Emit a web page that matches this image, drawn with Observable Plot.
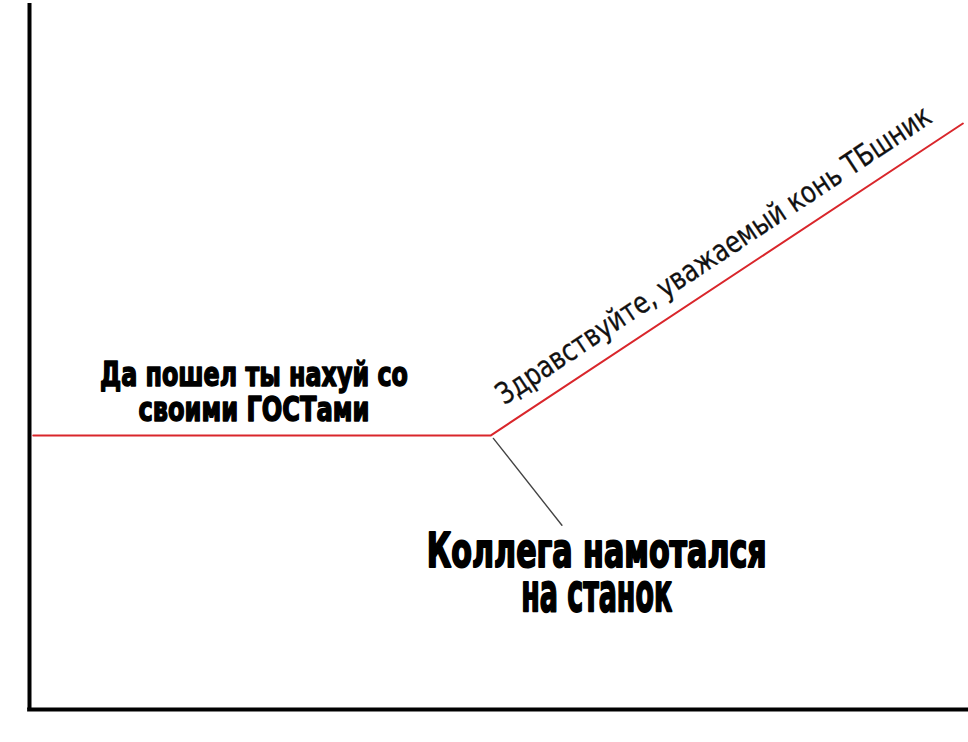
<!DOCTYPE html>
<html>
<head>
<meta charset="utf-8">
<script src="https://cdn.jsdelivr.net/npm/d3@7"></script>
<script src="https://cdn.jsdelivr.net/npm/@observablehq/plot@0.6"></script>
<style>
  html, body { margin: 0; padding: 0; background: #fff; }
  #chart svg { display: block; }
</style>
</head>
<body>
<div id="chart"></div>
<script>
// Trend line (data units: x 0..100, y 0..100)
const lineX = [0.4, 49.1, 99.4];
const lineY = [38.8, 38.8, 83.0];

// Pointer from the knee to the lower caption
const pointerX = [49.4, 56.7];
const pointerY = [38.4, 26.1];

// Captions (anchor = baseline of the last line)
const leftLabel = ["Да пошел ты нахуй со\nсвоими ГОСТами"];
const leftLabelX = [23.9];
const leftLabelY = [40.8];

const bottomLabel = ["Коллега намотался\nна станок"];
const bottomLabelX = [60.4];
const bottomLabelY = [14.0];

const slopeLabel = ["Здравствуйте, уважаемый конь ТБшник"];
const slopeLabelX = [50.0];
const slopeLabelY = [44.2];

const lineData = lineX.map((x, i) => ({x, y: lineY[i]}));
const pointerData = pointerX.map((x, i) => ({x, y: pointerY[i]}));
const leftData = leftLabel.map((t, i) => ({t, x: leftLabelX[i], y: leftLabelY[i]}));
const bottomData = bottomLabel.map((t, i) => ({t, x: bottomLabelX[i], y: bottomLabelY[i]}));
const slopeData = slopeLabel.map((t, i) => ({t, x: slopeLabelX[i], y: slopeLabelY[i]}));

const heavy = "'DejaVu Sans Condensed', 'Liberation Sans Narrow', 'DejaVu Sans', sans-serif";
const thin = "'DejaVu Sans Condensed', 'DejaVu Sans', sans-serif";

const svg = Plot.plot({
  width: 968,
  height: 742,
  marginLeft: 29,
  marginRight: 0,
  marginTop: 3,
  marginBottom: 33,
  x: {domain: [0, 100], axis: null},
  y: {domain: [0, 100], axis: null},
  style: {background: "#fff"},
  marks: [
    Plot.line(lineData, {x: "x", y: "y", stroke: "#d9262b", strokeWidth: 2}),
    Plot.line(pointerData, {x: "x", y: "y", stroke: "#444", strokeWidth: 1.4}),
    Plot.ruleX([0], {y1: 0, y2: 100, stroke: "#000", strokeWidth: 4}),
    Plot.ruleY([0], {x1: -0.2, x2: 100, stroke: "#000", strokeWidth: 4}),
    Plot.text(leftData, {x: "x", y: "y", text: "t", fontSize: 34, fontWeight: "bold",
      lineHeight: 35 / 34, lineAnchor: "bottom",
      fontFamily: heavy, fill: "#000", stroke: "#000", strokeWidth: 1.5, textAnchor: "middle"}),
    Plot.text(bottomData, {x: "x", y: "y", text: "t", fontSize: 48, fontWeight: "bold",
      lineHeight: 44 / 48, lineAnchor: "bottom",
      fontFamily: heavy, fill: "#000", stroke: "#000", strokeWidth: 2, textAnchor: "middle"}),
    Plot.text(slopeData, {x: "x", y: "y", text: "t", fontSize: 30, fontWeight: "normal",
      fontFamily: thin, fill: "#111", stroke: "#111", strokeWidth: 0.3,
      textAnchor: "start", rotate: -33.5})
  ]
});

// Fit caption widths to the reference
const widths = {
  "Да пошел ты нахуй со": 308,
  "своими ГОСТами": 231,
  "Коллега намотался": 340,
  "на станок": 151,
  "Здравствуйте, уважаемый конь ТБшник": 515
};
d3.select(svg).selectAll("text, tspan").each(function() {
  if (this.tagName === "text" && this.querySelector("tspan")) return;
  const t = this.textContent;
  if (widths[t]) {
    this.setAttribute("textLength", widths[t]);
    this.setAttribute("lengthAdjust", "spacingAndGlyphs");
  }
  // second line of the lower caption is set a little larger
  if (t === "на станок") {
    this.setAttribute("font-size", 54);
    this.setAttribute("dy", "44");
  }
});

document.getElementById("chart").appendChild(svg);
</script>
</body>
</html>
